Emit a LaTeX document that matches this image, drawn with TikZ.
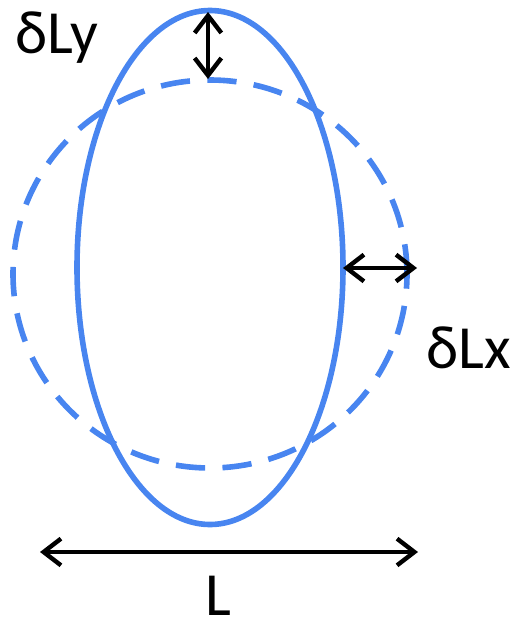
\documentclass[tikz,border=0pt]{standalone}
\usepackage{fontspec}
\setmainfont{Carlito}
\usetikzlibrary{arrows.meta}

\definecolor{shapeblue}{RGB}{72,133,240}

\begin{document}
\begin{tikzpicture}[x=0.75pt, y=-0.75pt,
	shape line/.style={line width=4.2pt, shapeblue},
	size arrow/.style={line width=3.3pt, black, {Straight Barb[length=13pt, width=20pt, line width=3.3pt]}-{Straight Barb[length=13pt, width=20pt, line width=3.3pt]}},
	size label/.style={font=\fontsize{46}{52}\selectfont, inner sep=0pt}]
	\useasboundingbox (0,0) rectangle (517,628);
	
	% undeformed shape (dashed circle)
	\draw[shape line, dash pattern=on 22pt off 13pt, dash phase=11pt] (210,274) ellipse [x radius=197, y radius=194];
	
	% deformed shape (solid ellipse)
	\draw[shape line] (210,267.5) ellipse [x radius=133, y radius=257];
	
	% end points of the arrows
	\coordinate (ytop) at (208,12);
	\coordinate (ybot) at (208,79);
	\coordinate (xin) at (343,268);
	\coordinate (xout) at (417,268);
	\coordinate (lleft) at (40,552);
	\coordinate (lright) at (418,552);
	
	% size changes
	\draw[size arrow] (ytop) -- (ybot);
	\draw[size arrow] (xin) -- (xout);
	\draw[size arrow] (lleft) -- (lright);
	
	% labels
	\node[size label, anchor=base west] (dly) at (15,53) {δLy};
	\node[size label, anchor=base west] (dlx) at (426,368) {δLx};
	\node[size label, anchor=base] (len) at (218,615) {L};
	
\end{tikzpicture}
\end{document}
